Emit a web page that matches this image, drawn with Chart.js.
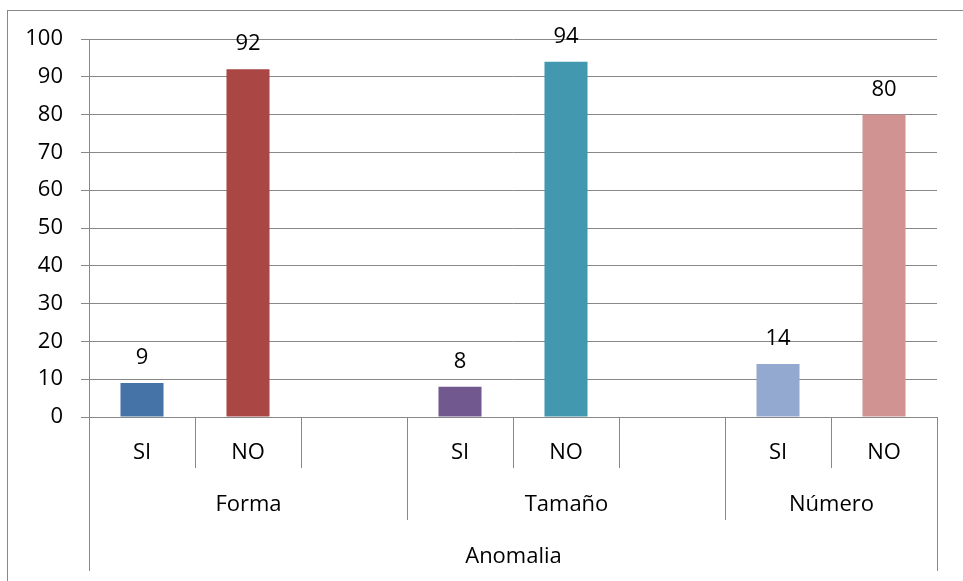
<!DOCTYPE html>
<html>
<head>
<meta charset="utf-8">
<script src="https://cdn.jsdelivr.net/npm/chart.js@4/dist/chart.umd.min.js"></script>
<style>
  html, body { margin: 0; padding: 0; background: #fff; }
  #wrap { position: relative; width: 963px; height: 581px; }
</style>
</head>
<body>
<div id="wrap"><canvas id="c" width="963" height="581"></canvas></div>
<script>
// Category slots (empty strings are the spacer slots between groups)
const categories = ['SI', 'NO', '', 'SI', 'NO', '', 'SI', 'NO'];
const values = [9, 92, null, 8, 94, null, 14, 80];
const barColors = ['#4572A7', '#AA4643', 'rgba(0,0,0,0)', '#71588F', '#4198AF', 'rgba(0,0,0,0)', '#93A9CF', '#D19392'];
// Group labels with the slot range each one spans (first..last index)
const groups = ['Forma', 'Tamaño', 'Número'];
const groupSpans = [[0, 2], [3, 5], [6, 7]];
const outerTitle = 'Anomalia';
const yTicks = [0, 10, 20, 30, 40, 50, 60, 70, 80, 90, 100];

const FONT = '"Open Sans", sans-serif';
const FS = 22;
const LINE = '#888888';

const frame = {
  id: 'frame',
  beforeDraw(chart) {
    const ctx = chart.ctx;
    ctx.save();
    ctx.fillStyle = '#fff';
    ctx.fillRect(0, 0, chart.width, chart.height);
    ctx.strokeStyle = LINE;
    ctx.lineWidth = 1;
    ctx.strokeRect(7.5, 10.5, 2000, 2000);
    ctx.restore();
  }
};

// Multi-level category axis: dividers and group / outer labels
const multiAxis = {
  id: 'multiAxis',
  afterDraw(chart) {
    const ctx = chart.ctx;
    const x = chart.scales.x;
    const y0 = x.top;
    const step = x.getPixelForValue(1) - x.getPixelForValue(0);
    const edge = i => Math.round(x.getPixelForValue(i) - step / 2) + 0.5;
    const n = categories.length;
    const groupStarts = groupSpans.map(s => s[0]);
    ctx.save();
    ctx.strokeStyle = LINE;
    ctx.lineWidth = 1;
    for (let i = 0; i <= n; i++) {
      let len = 51;
      if (groupStarts.includes(i)) len = 103;
      if (i === 0 || i === n) len = 154;
      const px = edge(i);
      ctx.beginPath();
      ctx.moveTo(px, i === 0 ? chart.chartArea.top : y0);
      ctx.lineTo(px, y0 + len);
      ctx.stroke();
    }
    ctx.fillStyle = '#000';
    ctx.font = FS + 'px ' + FONT;
    ctx.textAlign = 'center';
    ctx.textBaseline = 'alphabetic';
    groups.forEach((g, k) => {
      const [a, b] = groupSpans[k];
      const cx = (edge(a) + edge(b + 1)) / 2;
      ctx.fillText(g, cx, y0 + 94);
    });
    ctx.fillText(outerTitle, (edge(0) + edge(n)) / 2, y0 + 146);
    ctx.restore();
  }
};

// Value labels above each bar
const valueLabels = {
  id: 'valueLabels',
  afterDatasetsDraw(chart) {
    const ctx = chart.ctx;
    const meta = chart.getDatasetMeta(0);
    ctx.save();
    ctx.fillStyle = '#000';
    ctx.font = FS + 'px ' + FONT;
    ctx.textAlign = 'center';
    ctx.textBaseline = 'alphabetic';
    meta.data.forEach((bar, i) => {
      const v = values[i];
      if (v === null || v === undefined) return;
      ctx.fillText(String(v), bar.x, bar.y - 19);
    });
    ctx.restore();
  }
};

new Chart(document.getElementById('c'), {
  type: 'bar',
  data: {
    labels: categories,
    datasets: [{
      data: values,
      backgroundColor: barColors,
      borderWidth: 0,
      categoryPercentage: 1,
      barPercentage: 0.406
    }]
  },
  options: {
    responsive: false,
    animation: false,
    devicePixelRatio: 1,
    layout: { padding: { top: 39, right: 26, left: 0, bottom: 0 } },
    plugins: { legend: { display: false }, tooltip: { enabled: false } },
    scales: {
      x: {
        grid: { display: false, drawTicks: false },
        border: { display: true, color: LINE, width: 1 },
        ticks: { color: '#000', font: { family: FONT, size: FS }, padding: 23, maxRotation: 0, autoSkip: false },
        afterFit(s) { s.height = 164; }
      },
      y: {
        min: 0, max: 100,
        afterBuildTicks(s) { s.ticks = yTicks.map(v => ({ value: v })); },
        grid: { color: LINE, tickLength: 8, drawTicks: true },
        border: { display: true, color: LINE, width: 1 },
        ticks: { color: '#000', font: { family: FONT, size: FS }, padding: 18 },
        afterFit(s) { s.width = 89; }
      }
    }
  },
  plugins: [frame, multiAxis, valueLabels]
});
</script>
</body>
</html>
